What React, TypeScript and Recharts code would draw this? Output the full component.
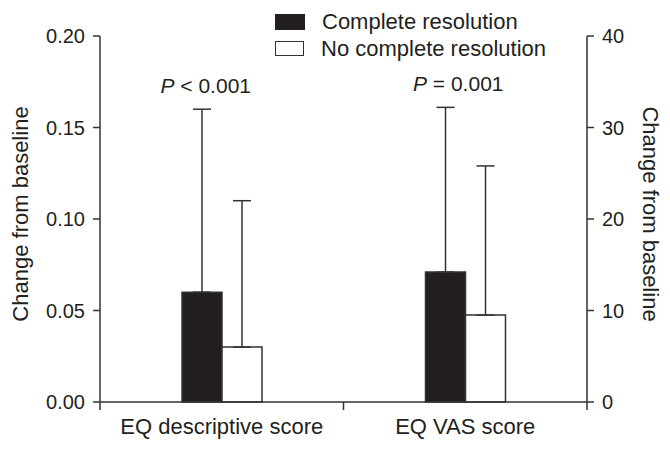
import { BarChart, Bar, XAxis, YAxis, ErrorBar, ReferenceDot } from 'recharts';

const categories = ['EQ descriptive score', 'EQ VAS score'];
const seriesNames = ['Complete resolution', 'No complete resolution'];
// mean change from baseline; first value on the left axis, second on the right axis
const completeMean = [0.06, 14.2];
const completeSd = [0.1, 18.0];
const noMean = [0.03, 9.5];
const noSd = [0.08, 16.3];
const pValues = ['< 0.001', '= 0.001'];
const leftTicks = [0, 0.05, 0.1, 0.15, 0.2];
const rightTicks = [0, 10, 20, 30, 40];

const INK = '#231f20';
const LINE = '#333';
const FONT = '"Liberation Sans", Arial, sans-serif';

// EQ descriptive uses the left scale, EQ VAS the right one
const data = categories.map((name, i) => {
  const side = i === 0 ? 'L' : 'R';
  return {
    name,
    [`complete${side}`]: completeMean[i],
    [`completeErr${side}`]: [0, completeSd[i]],
    [`no${side}`]: noMean[i],
    [`noErr${side}`]: [0, noSd[i]],
  };
});

function CategoryTick(props: any) {
  const { x, y, payload, index, width, visibleTicksCount } = props;
  const half = payload.offset ?? width / visibleTicksCount / 2;
  return (
    <g>
      {index === 0 && (
        <line x1={x - half} x2={x - half} y1={y - 10} y2={y - 2} stroke={LINE} strokeWidth={1.5} />
      )}
      <line x1={x + half} x2={x + half} y1={y - 10} y2={y - 2} stroke={LINE} strokeWidth={1.5} />
      <text x={x} y={y + 22} textAnchor="middle" fill={INK} fontSize={22} fontFamily={FONT}>
        {payload.value}
      </text>
    </g>
  );
}

function AxisTitle(props: any) {
  const { viewBox, side } = props;
  const cx = side === 'left' ? viewBox.x + 20 : viewBox.x + 63;
  const cy = viewBox.y + viewBox.height / 2 - 5;
  return (
    <text
      x={cx}
      y={cy}
      textAnchor="middle"
      dominantBaseline="central"
      transform={`rotate(${side === 'left' ? -90 : 90}, ${cx}, ${cy})`}
      fill={INK}
      fontSize={22}
      fontFamily={FONT}
    >
      Change from baseline
    </text>
  );
}

function PLabel(props: any) {
  const { viewBox, text, dx } = props;
  return (
    <text x={viewBox.x + dx} y={viewBox.y - 16} textAnchor="middle" fill={INK} fontSize={21} fontFamily={FONT}>
      <tspan fontStyle="italic">P</tspan>
      {' '}
      {text}
    </text>
  );
}

const tickStyle = { fill: INK, fontSize: 20, fontFamily: FONT };

export default function App() {
  return (
    <div style={{ position: 'absolute', left: 0, top: 0, width: 670, height: 450, background: '#fff' }}>
      <BarChart
        width={670}
        height={450}
        data={data}
        margin={{ top: 36, right: 0, bottom: 0, left: 0 }}
        barGap={0}
        barSize={40}
      >
        <XAxis
          xAxisId="a"
          dataKey="name"
          height={48}
          tick={<CategoryTick />}
          tickLine={false}
          tickSize={8}
          tickMargin={2}
          axisLine={{ stroke: LINE, strokeWidth: 1.5 }}
        />
        <XAxis xAxisId="b" dataKey="name" hide />
        <YAxis
          yAxisId="left"
          width={100}
          domain={[0, 0.2]}
          ticks={leftTicks}
          tickFormatter={(v: number) => v.toFixed(2)}
          tick={tickStyle}
          tickSize={7}
          tickMargin={8}
          axisLine={{ stroke: LINE, strokeWidth: 1.5 }}
          tickLine={{ stroke: LINE, strokeWidth: 1.5 }}
          label={<AxisTitle side="left" />}
        />
        <YAxis
          yAxisId="right"
          orientation="right"
          width={83}
          domain={[0, 40]}
          ticks={rightTicks}
          tick={tickStyle}
          tickSize={7}
          tickMargin={8}
          axisLine={{ stroke: LINE, strokeWidth: 1.5 }}
          tickLine={{ stroke: LINE, strokeWidth: 1.5 }}
          label={<AxisTitle side="right" />}
        />
        <Bar xAxisId="a" yAxisId="left" dataKey="completeL" name={seriesNames[0]} fill={INK} stroke={LINE} strokeWidth={1.5} isAnimationActive={false}>
          <ErrorBar dataKey="completeErrL" direction="y" width={9} stroke={LINE} strokeWidth={1.5} />
        </Bar>
        <Bar xAxisId="a" yAxisId="left" dataKey="noL" name={seriesNames[1]} fill="#fff" stroke={LINE} strokeWidth={1.5} isAnimationActive={false}>
          <ErrorBar dataKey="noErrL" direction="y" width={9} stroke={LINE} strokeWidth={1.5} />
        </Bar>
        <Bar xAxisId="b" yAxisId="right" dataKey="completeR" name={seriesNames[0]} fill={INK} stroke={LINE} strokeWidth={1.5} isAnimationActive={false}>
          <ErrorBar dataKey="completeErrR" direction="y" width={9} stroke={LINE} strokeWidth={1.5} />
        </Bar>
        <Bar xAxisId="b" yAxisId="right" dataKey="noR" name={seriesNames[1]} fill="#fff" stroke={LINE} strokeWidth={1.5} isAnimationActive={false}>
          <ErrorBar dataKey="noErrR" direction="y" width={9} stroke={LINE} strokeWidth={1.5} />
        </Bar>
        {categories.map((c, i) => (
          <ReferenceDot
            key={c}
            xAxisId="a"
            yAxisId={i === 0 ? 'left' : 'right'}
            x={c}
            y={completeMean[i] + completeSd[i]}
            r={0}
            fill="none"
            stroke="none"
            label={<PLabel text={pValues[i]} dx={i === 0 ? -16 : -7} />}
          />
        ))}
      </BarChart>

      {/* legend drawn by hand so it sits above the plot like the original */}
      <div style={{ position: 'absolute', left: 275, top: 8, fontFamily: FONT, fontSize: 22, color: INK }}>
        {seriesNames.map((n, i) => (
          <div key={n} style={{ display: 'flex', alignItems: 'center', height: 27 }}>
            <span
              style={{
                display: 'inline-block',
                width: i === 0 ? 30 : 27,
                height: i === 0 ? 16 : 13,
                background: i === 0 ? INK : '#fff',
                border: i === 0 ? 'none' : `1.5px solid ${LINE}`,
                marginRight: 17,
              }}
            />
            {n}
          </div>
        ))}
      </div>
    </div>
  );
}
